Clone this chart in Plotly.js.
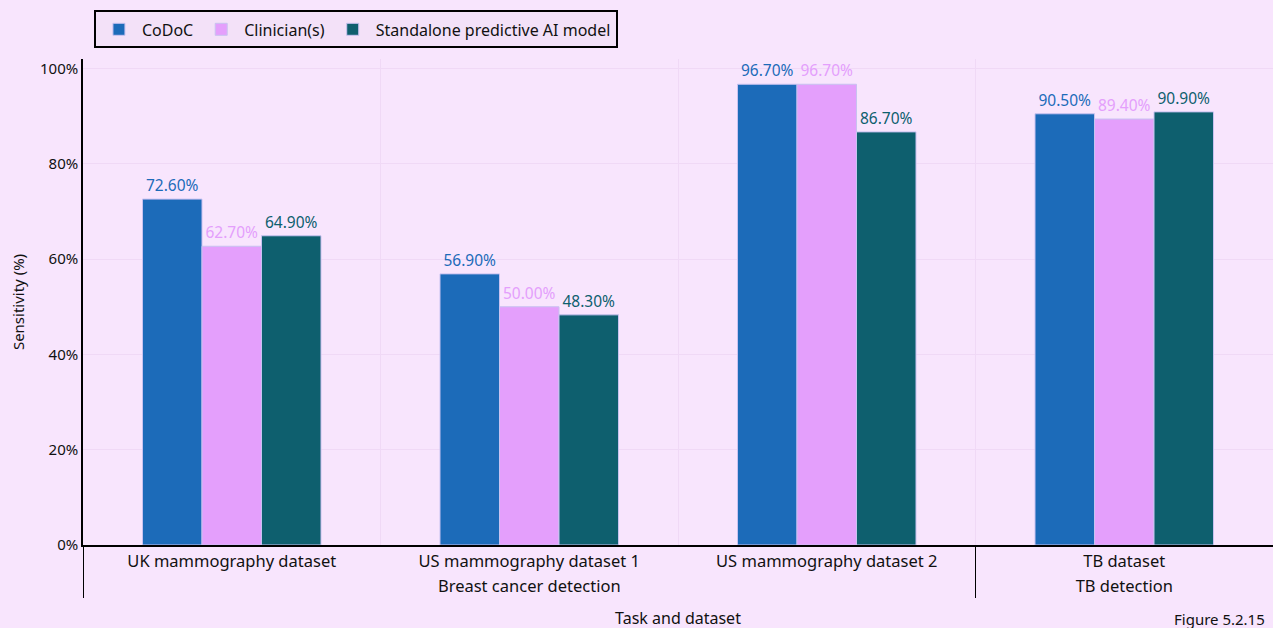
<!DOCTYPE html>
<html><head><meta charset="utf-8">
<script src="https://cdn.plot.ly/plotly-3.0.1.min.js"></script>
<style>html,body{margin:0;padding:0;background:#f8e5fd;}#chart{width:1273px;height:628px;}</style>
</head><body><div id="chart"></div>
<script>
const tasks = ["Breast cancer detection","Breast cancer detection","Breast cancer detection","TB detection"];
const datasets = ["UK mammography dataset","US mammography dataset 1","US mammography dataset 2","TB dataset"];
const codoc = [72.6, 56.9, 96.7, 90.5];
const clinician = [62.7, 50.0, 96.7, 89.4];
const standalone = [64.9, 48.3, 86.7, 90.9];
const seriesNames = ["CoDoC","Clinician(s)","Standalone predictive AI model"];
const colors = ["#1c6bb9","#e49ffc","#0e5f6e"];
const yTicks = [0,20,40,60,80,100];

const lbl = "Noto Sans";
const traces = [codoc, clinician, standalone].map((vals, i) => ({
  type: "bar",
  name: seriesNames[i],
  x: [tasks, datasets],
  y: vals,
  marker: {color: colors[i], line: {color: "#c8c2f0", width: 1}},
  text: vals.map(v => v.toFixed(2) + "%"),
  textposition: "outside",
  constraintext: "none",
  cliponaxis: false,
  textfont: {family: lbl, size: 15.5, color: colors[i]},
  hoverinfo: "skip"
}));

const layout = {
  width: 1273, height: 628,
  paper_bgcolor: "#f8e5fd", plot_bgcolor: "#f8e5fd",
  margin: {l: 83, r: 0, t: 59, b: 83},
  barmode: "group", bargap: 0.4, bargroupgap: 0,
  font: {family: lbl, size: 15, color: "#111"},
  showlegend: true,
  legend: {orientation: "h", x: 0.0092, xanchor: "left", y: 1.1, yanchor: "top",
    bgcolor: "#f3e1f8", bordercolor: "#000", borderwidth: 2,
    font: {family: lbl, size: 16, color: "#111"}, itemwidth: 36, tracegroupgap: 0},
  xaxis: {type: "multicategory", showline: true, linecolor: "#000", linewidth: 2,
    showgrid: true, gridcolor: "#f0d9f6", ticks: "", showdividers: true,
    dividercolor: "#000", dividerwidth: 1,
    tickfont: {family: lbl, size: 16.5, color: "#111"},
    title: {text: "Task and dataset", font: {family: lbl, size: 16, color: "#111"}, standoff: 17}},
  yaxis: {range: [0, 102], tickvals: yTicks, ticktext: yTicks.map(v => v + "%"),
    showline: true, linecolor: "#000", linewidth: 1.5, gridcolor: "#f0d9f6", zeroline: false,
    ticks: "", tickfont: {family: lbl, size: 15, color: "#111"},
    title: {text: "Sensitivity (%)", font: {family: lbl, size: 15, color: "#111"}, standoff: 12}},
  annotations: [{text: "Figure 5.2.15", xref: "paper", yref: "paper", x: 1, y: -0.152,
    xanchor: "right", yanchor: "middle", xshift: -6, showarrow: false,
    font: {family: lbl, size: 15, color: "#111"}}]
};
Plotly.newPlot("chart", traces, layout, {displayModeBar: false});
</script></body></html>
